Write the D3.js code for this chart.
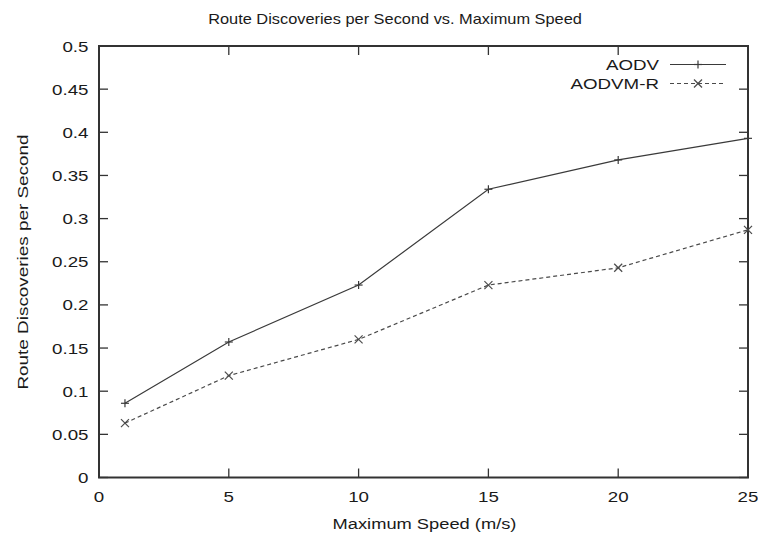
<!DOCTYPE html>
<html>
<head>
<meta charset="utf-8">
<script src="https://cdn.jsdelivr.net/npm/d3@7"></script>
<style>
  html, body { margin: 0; padding: 0; background: #fff; }
  svg { display: block; }
  text { font-family: "Liberation Sans", Arial, Helvetica, sans-serif; fill: #1a1a1a; }
</style>
</head>
<body>
<svg id="chart" width="758" height="536"></svg>
<script>
// Maximum node speed (m/s)
const speeds = [1, 5, 10, 15, 20, 25];
// Route discoveries per second for each protocol
const aodv = [0.086, 0.157, 0.223, 0.334, 0.368, 0.393];
const aodvmr = [0.063, 0.118, 0.160, 0.223, 0.243, 0.287];
const seriesNames = ["AODV", "AODVM-R"];
const xTicks = [0, 5, 10, 15, 20, 25];
const yTicks = [0, 0.05, 0.1, 0.15, 0.2, 0.25, 0.3, 0.35, 0.4, 0.45, 0.5];

const titleText = "Route Discoveries per Second vs. Maximum Speed";
const xLabel = "Maximum Speed (m/s)";
const yLabel = "Route Discoveries per Second";

const svg = d3.select("#chart");
const L = 99, R = 748, T = 46, B = 477.5;

const x = d3.scaleLinear().domain([0, 25]).range([L, R]);
const y = d3.scaleLinear().domain([0, 0.5]).range([B, T]);

const axisColor = "#333";
const tickLen = 9;

// Text helper: horizontally widened sans text
function label(g, str, px, py, anchor, size, sx, rotate) {
  const t = g.append("text")
    .attr("transform", `translate(${px},${py})` + (rotate ? ` rotate(${rotate})` : "") + ` scale(${sx},1)`)
    .attr("text-anchor", anchor)
    .attr("font-size", size)
    .text(str);
  return t;
}

// Inward ticks on all four sides
const ticks = svg.append("g").attr("stroke", axisColor).attr("stroke-width", 1.3);
xTicks.forEach(v => {
  ticks.append("line").attr("x1", x(v)).attr("x2", x(v)).attr("y1", B).attr("y2", B - tickLen);
  ticks.append("line").attr("x1", x(v)).attr("x2", x(v)).attr("y1", T).attr("y2", T + tickLen);
});
yTicks.forEach(v => {
  ticks.append("line").attr("x1", L).attr("x2", L + tickLen).attr("y1", y(v)).attr("y2", y(v));
  ticks.append("line").attr("x1", R).attr("x2", R - tickLen).attr("y1", y(v)).attr("y2", y(v));
});

// Frame
svg.append("rect")
  .attr("x", L).attr("y", T).attr("width", R - L).attr("height", B - T)
  .attr("fill", "none").attr("stroke", axisColor).attr("stroke-width", 2);

// Tick labels
const labels = svg.append("g");
xTicks.forEach(v => label(labels, d3.format("")(v), x(v), 502, "middle", 15, 1.25));
yTicks.forEach(v => label(labels, d3.format("")(v), 88.5, y(v) + 5.5, "end", 15, 1.25));

// Titles
label(svg, titleText, 395, 23.5, "middle", 14, 1.17);
label(svg, xLabel, 424.5, 529, "middle", 15, 1.22);
label(svg, yLabel, 28, 262, "middle", 15, 1.26, -90);

// Series
const lineGen = d3.line().x((d, i) => x(speeds[i])).y(d => y(d));
const styles = [
  { data: aodv, color: "#3a3a3a", dash: null, marker: "plus" },
  { data: aodvmr, color: "#4a4a4a", dash: "4,3", marker: "cross" }
];

function marker(g, kind, cx, cy, color) {
  const s = 4;
  const m = g.append("g").attr("stroke", color).attr("stroke-width", 1.2);
  if (kind === "plus") {
    m.append("line").attr("x1", cx - s).attr("x2", cx + s).attr("y1", cy).attr("y2", cy);
    m.append("line").attr("x1", cx).attr("x2", cx).attr("y1", cy - s).attr("y2", cy + s);
  } else {
    m.append("line").attr("x1", cx - s).attr("x2", cx + s).attr("y1", cy - s).attr("y2", cy + s);
    m.append("line").attr("x1", cx - s).attr("x2", cx + s).attr("y1", cy + s).attr("y2", cy - s);
  }
}

const plot = svg.append("g");
styles.forEach(st => {
  plot.append("path")
    .attr("d", lineGen(st.data))
    .attr("fill", "none")
    .attr("stroke", st.color)
    .attr("stroke-width", 1.2)
    .attr("stroke-dasharray", st.dash);
  st.data.forEach((d, i) => marker(plot, st.marker, x(speeds[i]), y(d), st.color));
});

// Legend
const legend = svg.append("g");
seriesNames.forEach((name, i) => {
  const ly = 64.5 + i * 19;
  label(legend, name, 659, ly + 5.5, "end", 15, 1.25);
  legend.append("line")
    .attr("x1", 670).attr("x2", 726).attr("y1", ly).attr("y2", ly)
    .attr("stroke", styles[i].color).attr("stroke-width", 1.2)
    .attr("stroke-dasharray", styles[i].dash);
  marker(legend, styles[i].marker, 698, ly, styles[i].color);
});
</script>
</body>
</html>
